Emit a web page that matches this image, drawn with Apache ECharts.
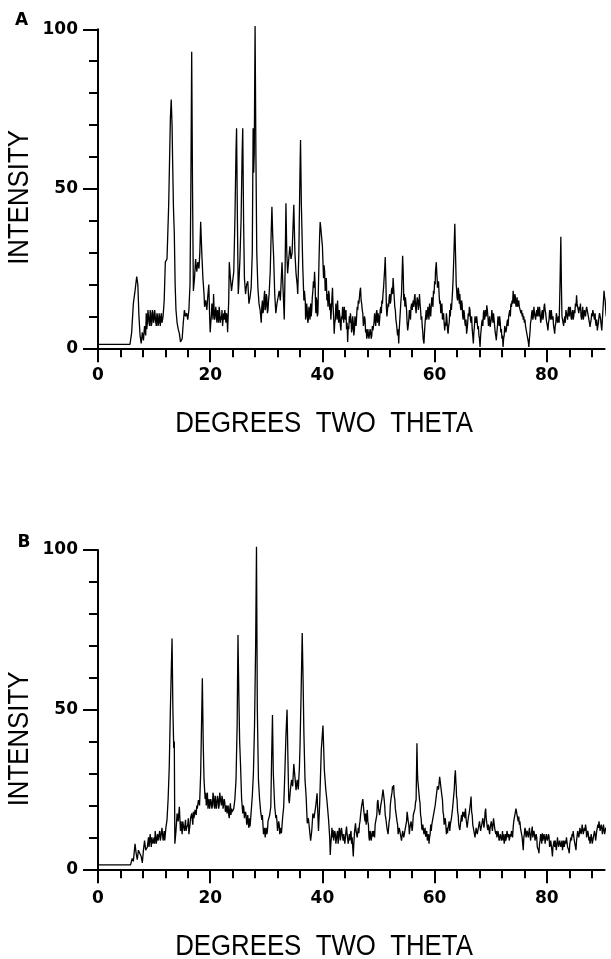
<!DOCTYPE html>
<html>
<head>
<meta charset="utf-8">
<script src="https://cdn.jsdelivr.net/npm/echarts@6/dist/echarts.min.js"></script>
<style>html,body{margin:0;padding:0;background:#fff;}#c{width:611px;height:959px;}</style>
</head>
<body>
<div id="c"></div>
<script>
// ---- data (degrees two theta, intensity) ----
const pointsA = [[0,1.2],[5.7,1.2],[6.0,5],[6.3,14],[6.6,18],[6.9,22.5],[7.1,20],[7.3,10],[7.5,4],[7.7,1.5],[7.9,5],[8.1,2.5],[8.3,7],[8.5,4],[8.6,11],[8.7,6],[8.8,8],[8.9,12],[9.0,12],[9.1,8],[9.2,7],[9.3,12],[9.4,11],[9.5,7],[9.6,8],[9.7,12],[9.8,11],[9.9,8],[10.0,9],[10.1,12],[10.2,10],[10.3,8],[10.4,7],[10.5,11],[10.6,10],[10.7,7],[10.8,8],[10.9,11],[11.0,9],[11.1,7],[11.2,10],[11.3,11],[11.4,8],[11.5,9],[11.6,10],[11.8,15],[12.0,27],[12.3,28],[12.6,45],[12.9,72],[13.05,78],[13.2,70],[13.3,59],[13.45,44],[13.6,36],[13.75,20],[13.9,12],[14.1,8],[14.3,6],[14.5,4.7],[14.7,2],[14.85,1.5],[15.0,3],[15.2,8],[15.4,12],[15.6,10],[15.8,11],[16.0,9],[16.2,12],[16.4,20],[16.55,50],[16.7,93],[16.85,50],[17.0,18],[17.2,22],[17.4,28],[17.6,24],[17.8,27],[18.0,25],[18.15,30],[18.3,39.7],[18.5,30],[18.7,22],[18.9,17],[19.0,13],[19.2,15],[19.4,12],[19.6,17],[19.75,20],[19.9,10],[20.0,5],[20.1,8],[20.2,10],[20.3,14],[20.4,12],[20.5,9],[20.6,17],[20.7,12],[20.8,9],[20.9,11],[21.0,13],[21.1,10],[21.2,8],[21.3,12],[21.4,10],[21.5,8],[21.6,13],[21.7,11],[21.8,8],[21.9,10],[22.0,9],[22.1,12],[22.2,7],[22.3,9],[22.4,11],[22.5,9],[22.6,12],[22.7,10],[22.8,8],[22.9,11],[23.0,10],[23.1,5],[23.3,15],[23.4,27],[23.6,22],[23.8,18],[24.0,18],[24.2,24],[24.4,40],[24.6,62],[24.7,69],[24.85,40],[25.0,17],[25.1,20],[25.3,28],[25.5,40],[25.7,62],[25.8,69],[25.95,40],[26.1,22],[26.3,17],[26.5,20],[26.7,21],[26.9,14],[27.1,16],[27.3,19],[27.5,30],[27.65,69],[27.75,55],[27.85,61],[28.0,101],[28.15,60],[28.3,30],[28.5,19],[28.7,14],[28.9,12],[29.1,8],[29.2,13],[29.3,15],[29.4,11],[29.5,12],[29.6,16],[29.7,18],[29.8,12],[29.9,13],[30.0,17],[30.1,16],[30.2,11],[30.3,12],[30.4,15],[30.5,17],[30.7,24],[30.85,35],[31.0,44.4],[31.15,35],[31.3,29],[31.5,17],[31.7,11],[31.9,14],[32.1,16],[32.3,18],[32.5,15],[32.7,23],[32.8,27],[33.0,18],[33.2,9],[33.35,25],[33.5,45.5],[33.65,30],[33.8,23.5],[34.0,28],[34.2,32],[34.4,28],[34.6,30],[34.7,30],[34.9,45],[35.1,30],[35.3,23.5],[35.5,20],[35.6,17],[35.8,30],[36.0,55],[36.1,65.3],[36.25,45],[36.5,25.6],[36.7,15],[36.8,18],[36.95,14.6],[37.0,9],[37.1,10],[37.2,14],[37.3,12],[37.4,8],[37.5,9],[37.6,13],[37.7,11],[37.8,9],[37.9,14],[38.0,10],[38.1,12],[38.2,16],[38.3,18],[38.4,21],[38.5,19],[38.6,24],[38.7,20],[38.8,12],[38.85,11],[38.9,16],[39.0,15],[39.1,10],[39.2,11],[39.3,20],[39.4,28],[39.5,35],[39.6,39.6],[39.7,38],[39.8,36],[39.9,34],[40.0,32],[40.1,27],[40.2,22],[40.3,26],[40.4,24],[40.5,18],[40.6,19],[40.7,22],[40.8,15],[40.9,17],[41.0,13],[41.1,18],[41.2,17],[41.3,12],[41.4,14],[41.5,9],[41.6,12],[41.7,16],[41.8,19],[41.9,13],[42.0,10],[42.1,4.6],[42.2,8],[42.3,9],[42.4,14],[42.5,12],[42.6,9],[42.7,15],[42.8,11],[42.9,8],[43.0,12],[43.1,10],[43.2,7],[43.3,5.6],[43.4,10],[43.5,9],[43.6,13],[43.7,11],[43.8,8],[43.9,13],[44.0,10],[44.1,9],[44.2,12],[44.3,6],[44.4,8],[44.5,2],[44.6,7],[44.7,6],[44.8,10],[44.9,8],[45.0,11],[45.1,9],[45.2,5],[45.3,6],[45.4,10],[45.5,8],[45.6,4],[45.7,5.6],[45.8,10],[45.9,9],[46.0,7],[46.1,10],[46.2,13],[46.3,12],[46.4,15],[46.5,14],[46.6,16],[46.7,18],[46.8,19],[46.9,15],[47.0,14],[47.1,12],[47.2,11],[47.3,7],[47.4,8],[47.5,10],[47.6,9],[47.7,5],[47.8,6],[47.9,3],[48.0,4],[48.1,6],[48.2,5.5],[48.3,3],[48.4,2.5],[48.5,6],[48.6,5],[48.7,3],[48.8,4],[48.9,7],[49.0,5.6],[49.1,6],[49.2,8],[49.3,11],[49.4,9],[49.5,7],[49.6,11],[49.7,12],[49.8,8],[49.9,11],[50.0,10],[50.1,7],[50.2,9],[50.3,12],[50.4,13],[50.5,11],[50.6,15],[50.7,14],[50.8,17],[50.9,19],[51.0,22],[51.1,25],[51.2,28.6],[51.3,22],[51.35,18],[51.4,13],[51.5,10],[51.6,12],[51.7,14],[51.8,13],[51.9,16],[52.0,17],[52.1,14],[52.2,15],[52.3,18],[52.4,19],[52.5,17],[52.6,22],[52.7,19],[52.8,16],[52.9,13],[53.0,12],[53.1,9],[53.2,7.7],[53.3,8],[53.4,4],[53.5,6],[53.6,1.5],[53.7,6],[53.8,9],[53.9,12],[54.0,15],[54.1,17],[54.15,20],[54.3,29],[54.4,24],[54.45,20],[54.5,15],[54.6,17],[54.7,13],[54.8,16],[54.9,14],[55.0,12],[55.1,8],[55.2,5.6],[55.3,7],[55.4,9],[55.5,12],[55.6,11],[55.7,9],[55.8,13],[55.9,14],[56.0,12],[56.1,14],[56.2,15],[56.3,13],[56.4,16],[56.5,17],[56.6,13],[56.7,11],[56.8,14],[56.9,16],[57.0,15],[57.1,12],[57.2,14],[57.3,17],[57.4,14],[57.5,12],[57.6,9],[57.7,10],[57.8,6.7],[57.9,5],[57.95,3],[58.1,1.5],[58.2,5],[58.3,8],[58.4,10],[58.5,12],[58.6,9],[58.7,10],[58.8,13],[58.9,11],[59.0,9],[59.1,14],[59.2,12],[59.3,10],[59.4,13],[59.5,16],[59.6,15],[59.7,13],[59.8,18],[59.9,17],[60.0,21],[60.1,20],[60.15,24],[60.3,27],[60.4,23],[60.45,22],[60.5,19],[60.6,19],[60.7,21],[60.8,17],[60.9,14],[61.0,15],[61.1,11],[61.2,12],[61.3,14],[61.4,9],[61.5,10],[61.6,11],[61.7,8],[61.8,5.6],[61.9,8],[62.0,7],[62.1,11],[62.2,9],[62.3,6],[62.4,4.6],[62.5,7],[62.6,8],[62.7,12],[62.8,10],[62.9,14],[63.0,12],[63.1,15],[63.2,18],[63.3,22],[63.45,30],[63.6,39],[63.75,28],[63.85,20],[63.9,19],[64.0,16],[64.1,15],[64.2,19],[64.3,18],[64.4,14],[64.5,17],[64.6,13],[64.7,12],[64.8,15],[64.9,14],[65.0,10],[65.1,9],[65.2,12],[65.3,11],[65.4,8],[65.5,7],[65.6,9],[65.7,4.6],[65.8,6],[65.9,8],[66.0,11],[66.1,10],[66.2,13],[66.3,12],[66.4,9],[66.5,8],[66.6,10],[66.7,6],[66.8,4],[66.9,1.5],[67.0,5],[67.1,7],[67.2,10],[67.3,9],[67.4,8],[67.5,10],[67.6,8],[67.7,6],[67.8,7],[67.9,4],[68.0,3],[68.1,0.4],[68.2,4],[68.3,6],[68.4,8],[68.5,9],[68.6,7],[68.7,11],[68.8,12],[68.9,9],[69.0,10],[69.1,12],[69.2,10],[69.3,13.5],[69.4,12],[69.5,10],[69.6,7],[69.7,8],[69.8,10],[69.9,6.7],[70.0,8],[70.1,9],[70.2,12],[70.3,10],[70.4,8],[70.5,11],[70.6,9],[70.7,7],[70.8,5],[70.9,4],[71.0,2.5],[71.1,5],[71.2,7],[71.3,10],[71.4,9],[71.5,7],[71.6,10],[71.7,8],[71.8,5],[71.9,6],[72.0,3],[72.1,4],[72.2,0.4],[72.3,3],[72.4,4],[72.5,7],[72.6,7],[72.7,5],[72.8,6],[72.9,8],[73.0,9],[73.1,7],[73.2,10],[73.3,11],[73.4,12],[73.5,10],[73.6,14],[73.7,13],[73.8,15],[73.9,14],[74.0,18],[74.1,15],[74.2,14],[74.3,17],[74.4,16],[74.5,13],[74.6,14],[74.7,16],[74.8,13],[74.9,14],[75.0,15],[75.1,13],[75.2,12.4],[75.3,13],[75.4,11],[75.5,12],[75.6,10],[75.7,11],[75.8,9],[75.9,10],[76.0,8],[76.1,9],[76.2,7],[76.3,6],[76.4,5.6],[76.5,4],[76.6,3],[76.7,2],[76.8,0.4],[76.9,3],[77.0,5],[77.1,8],[77.2,9],[77.3,11],[77.4,12],[77.5,9],[77.6,10],[77.7,13],[77.8,11],[77.9,10],[78.0,9],[78.1,11],[78.2,12],[78.3,10],[78.4,13],[78.5,11],[78.6,10],[78.7,13],[78.8,11],[78.9,8],[79.0,9],[79.1,11],[79.2,12],[79.3,9],[79.4,10],[79.5,13],[79.6,14],[79.7,12],[79.8,11],[79.9,9],[80.0,8],[80.1,7],[80.2,5.6],[80.3,8],[80.4,9],[80.5,12],[80.6,11],[80.7,9],[80.8,12],[80.9,10],[81.0,9],[81.1,10],[81.2,7],[81.3,6],[81.4,4.6],[81.5,7],[81.6,8],[81.7,11],[81.8,10],[81.9,8],[82.0,9],[82.1,10],[82.2,8],[82.35,20],[82.5,35],[82.6,20],[82.65,15],[82.7,10],[82.8,9],[82.9,8],[83.0,7],[83.1,9],[83.2,10],[83.3,8],[83.4,12],[83.5,11],[83.6,10],[83.7,9],[83.8,12],[83.9,13],[84.0,10],[84.1,12],[84.2,13],[84.3,10],[84.4,9],[84.5,11],[84.6,12],[84.7,9],[84.8,10],[84.9,12],[85.0,11],[85.1,14],[85.2,13],[85.3,16.6],[85.4,14],[85.5,13],[85.6,12],[85.7,11],[85.8,13],[85.9,12],[86.0,14],[86.1,10],[86.2,9],[86.3,11],[86.4,13],[86.5,9],[86.6,10],[86.7,12],[86.8,11],[86.9,10],[87.0,12],[87.1,13],[87.2,12],[87.3,11],[87.4,10],[87.5,9],[87.6,8],[87.7,6.7],[87.8,8],[87.9,9],[88.0,11],[88.1,10],[88.2,12],[88.3,11],[88.4,10],[88.5,9],[88.6,11],[88.7,8],[88.8,7],[88.9,9],[89.0,5.6],[89.1,7],[89.2,8],[89.3,10],[89.4,11],[89.5,10],[89.6,9],[89.7,7],[89.8,5.6],[89.9,9],[90.0,12],[90.1,15],[90.2,18],[90.3,16],[90.4,15],[90.5,12],[90.6,10],[90.7,11],[90.8,12],[90.9,10],[91.0,11]];

const pointsB = [[0,1.4],[5.8,1.4],[6.1,3.4],[6.3,2.5],[6.6,8],[6.8,5],[7.0,3],[7.2,6],[7.5,6],[7.7,4],[7.9,2],[8.1,6],[8.3,9],[8.5,6],[8.8,7],[9.0,10],[9.1,7],[9.3,11],[9.5,7],[9.6,10],[9.8,8],[10.0,10],[10.1,8],[10.2,12],[10.4,8],[10.6,11],[10.7,9],[10.8,9],[11.0,12],[11.1,9],[11.2,10],[11.4,13],[11.6,9],[11.8,12],[11.9,9],[12.1,13],[12.3,15.5],[12.5,22],[12.7,32],[12.9,50],[13.1,65],[13.2,72.3],[13.35,50],[13.5,38],[13.6,40],[13.7,8],[13.9,12],[14.1,17.5],[14.3,15],[14.5,19.6],[14.7,12],[14.8,15],[15.0,11],[15.1,15],[15.2,14],[15.4,12],[15.6,15.5],[15.7,12],[15.8,13],[16.0,14],[16.1,16],[16.2,11],[16.4,14],[16.5,16],[16.7,17.5],[16.9,14],[17.0,18],[17.1,16],[17.3,18.6],[17.5,17],[17.6,20],[17.7,19],[17.9,21.7],[18.1,20],[18.3,30],[18.45,45],[18.6,59.8],[18.75,40],[18.9,28],[19.1,22],[19.2,24],[19.3,20],[19.4,21.7],[19.5,24],[19.6,19],[19.7,21],[19.8,22],[19.9,19],[20.0,18.6],[20.1,22],[20.2,21],[20.3,19],[20.4,20],[20.5,24],[20.6,22.8],[20.7,20],[20.8,19],[20.9,23],[21.0,21],[21.1,19],[21.2,18.6],[21.3,23],[21.4,22],[21.5,19],[21.6,20],[21.7,24],[21.8,23.8],[21.9,21],[22.0,20],[22.1,23],[22.2,22],[22.3,19],[22.4,19.6],[22.5,22],[22.6,21],[22.7,18],[22.8,18],[22.9,20],[23.0,17.5],[23.1,19],[23.2,20],[23.3,17],[23.4,16],[23.5,19],[23.6,20.7],[23.7,17],[23.8,19],[23.9,18],[24.0,17.5],[24.2,19],[24.4,22],[24.6,28],[24.8,45],[24.95,73.4],[25.1,55],[25.25,40],[25.4,33],[25.6,22],[25.8,17.5],[25.9,20],[26.0,19],[26.1,16],[26.2,16],[26.3,18],[26.4,17],[26.5,14],[26.6,15.5],[26.7,17],[26.8,14],[26.9,13],[27.0,16],[27.1,13.4],[27.3,18],[27.5,22.8],[27.7,30],[27.9,45],[28.1,70],[28.25,101],[28.4,50],[28.6,28],[28.8,22],[29.0,18],[29.2,15.5],[29.3,17],[29.4,14],[29.5,11],[29.6,12],[29.7,13],[29.8,10],[29.9,12],[30.0,13],[30.1,11],[30.2,12],[30.3,15],[30.4,14.4],[30.6,17],[30.8,19.6],[30.95,35],[31.1,48.3],[31.25,30],[31.5,19.6],[31.7,16],[31.8,17],[31.9,15],[32.0,12],[32.1,13.4],[32.2,15],[32.3,14],[32.4,11],[32.5,12],[32.6,13],[32.7,11.3],[32.9,16],[33.1,19.6],[33.3,30],[33.5,42],[33.7,50],[33.85,35],[34.0,22],[34.1,20.7],[34.3,25],[34.5,28],[34.7,26],[34.9,33],[35.0,31],[35.2,27],[35.3,24.8],[35.5,28],[35.7,25],[35.9,32],[36.0,38],[36.2,55],[36.4,74],[36.55,60],[36.7,42.6],[36.9,28],[37.1,22.8],[37.3,14.4],[37.5,16],[37.8,15.5],[37.9,9],[38.1,12],[38.3,17.5],[38.5,16],[38.8,19.6],[39.05,23.8],[39.3,12],[39.5,20],[39.8,37.4],[40.1,45],[40.35,31],[40.6,25],[40.8,21.7],[41.1,15.5],[41.3,10],[41.4,4.5],[41.5,8],[41.6,10],[41.7,13],[41.8,10],[41.9,12.3],[42.0,9],[42.1,9],[42.2,12],[42.3,11],[42.4,8],[42.5,8],[42.6,11],[42.7,12],[42.8,8],[42.9,10],[43.0,13],[43.1,12.3],[43.2,9],[43.3,11],[43.4,13],[43.5,13],[43.6,10],[43.7,9],[43.8,11],[43.9,11],[44.0,8],[44.1,10],[44.2,12],[44.3,13.4],[44.4,11],[44.5,11],[44.6,8],[44.7,8],[44.8,11],[44.9,9],[45.0,11],[45.1,12],[45.2,8],[45.3,10],[45.4,7],[45.5,4],[45.6,8],[45.7,11],[45.8,13],[45.9,14.4],[46.0,12],[46.1,12],[46.2,10],[46.3,10],[46.4,13],[46.5,11.3],[46.6,14],[46.7,15],[46.8,17],[46.9,17.5],[47.0,20],[47.1,20],[47.2,22],[47.3,22.2],[47.4,18],[47.5,18],[47.6,15],[47.7,17.5],[47.8,14],[47.9,14],[48.0,18.6],[48.1,15],[48.2,14],[48.3,10],[48.4,9],[48.5,12],[48.6,11],[48.7,9],[48.8,9],[48.9,12],[49.0,10.2],[49.1,12],[49.2,12],[49.3,10],[49.4,14],[49.5,13.4],[49.6,16],[49.7,17],[49.8,21],[49.9,21.7],[50.0,19],[50.1,19],[50.2,17],[50.3,17.5],[50.4,20],[50.5,20],[50.6,22],[50.7,22],[50.8,25],[50.9,25.4],[51.0,22],[51.1,20],[51.2,17],[51.3,16],[51.4,15.5],[51.5,13],[51.6,13],[51.7,11],[51.8,11.3],[51.9,15],[52.0,16],[52.1,20],[52.2,21.7],[52.3,23],[52.4,24],[52.5,26],[52.6,25],[52.7,26.4],[52.8,23],[52.9,22],[53.0,19],[53.1,19],[53.2,18.6],[53.3,15],[53.4,14],[53.5,11],[53.6,11.3],[53.7,13],[53.8,13],[53.9,11],[54.0,11],[54.1,9],[54.2,9],[54.3,12],[54.4,12],[54.5,10],[54.6,10],[54.7,12],[54.8,12.3],[54.9,12],[55.0,15],[55.1,18],[55.2,18.6],[55.3,15],[55.4,14],[55.5,11],[55.6,13],[55.7,13.4],[55.8,15],[55.9,15],[56.0,12],[56.1,14],[56.2,17],[56.3,17.5],[56.4,17],[56.5,19],[56.6,21],[56.7,21.7],[56.85,39.5],[56.95,30],[57.0,28],[57.1,28],[57.2,24],[57.3,22],[57.4,20.7],[57.5,17],[57.6,16],[57.7,13],[57.8,12.3],[57.9,14],[58.0,14],[58.1,11],[58.2,11],[58.3,13],[58.4,10.2],[58.5,11],[58.6,12],[58.7,9],[58.8,9],[58.9,11],[59.0,8],[59.1,10],[59.2,11],[59.3,14],[59.4,12],[59.5,14],[59.6,13.4],[59.7,16],[59.8,16],[59.9,18],[60.0,18],[60.1,20],[60.2,19.6],[60.3,23],[60.4,23],[60.5,26],[60.6,25.9],[60.7,25],[60.8,27],[60.9,29],[61.0,29.5],[61.1,26],[61.2,26],[61.3,23],[61.4,21.7],[61.5,18],[61.6,17],[61.7,14],[61.8,13.4],[61.9,16],[62.0,14],[62.1,11],[62.2,13],[62.3,11.3],[62.4,13],[62.5,13],[62.6,15],[62.7,12],[62.8,14],[62.9,13.4],[63.0,16],[63.1,16],[63.2,19],[63.3,19.6],[63.4,23],[63.5,25],[63.6,29],[63.7,31],[63.8,27],[63.85,26],[63.9,23],[64.0,21.7],[64.1,18],[64.2,17],[64.3,14],[64.4,13],[64.5,12.3],[64.6,14],[64.7,14],[64.8,17],[64.9,15],[65.0,18],[65.1,16.5],[65.2,16],[65.3,18],[65.4,16],[65.5,19],[65.6,16],[65.7,16],[65.8,13],[65.9,13.4],[66.0,16],[66.1,16],[66.2,18],[66.3,18],[66.4,21],[66.5,22.8],[66.6,18],[66.7,17],[66.8,14],[66.9,14.4],[67.0,12],[67.1,12],[67.2,10],[67.3,10.2],[67.4,13],[67.5,13],[67.6,11],[67.7,11],[67.8,13],[67.9,13.4],[68.0,15],[68.1,15],[68.2,12],[68.3,12],[68.4,14],[68.5,14.4],[68.6,16],[68.7,16],[68.8,13],[68.9,15],[69.0,18],[69.1,19],[69.2,16],[69.3,16],[69.4,13],[69.5,12.3],[69.6,14],[69.7,14],[69.8,11],[69.9,13],[70.0,13.4],[70.1,15],[70.2,15],[70.3,12],[70.4,14],[70.5,16],[70.6,16.5],[70.7,13],[70.8,13],[70.9,11],[71.0,12],[71.1,10],[71.2,10.2],[71.3,12],[71.4,12],[71.5,9],[71.6,9],[71.7,11],[71.8,11.3],[71.9,9],[72.0,10],[72.1,12],[72.2,9],[72.3,11],[72.4,8],[72.5,9],[72.6,11],[72.7,9],[72.8,10],[72.9,12],[73.0,12.3],[73.1,10],[73.2,11],[73.3,9],[73.4,9],[73.5,11],[73.6,10.2],[73.7,12],[73.8,12],[73.9,10],[74.0,13],[74.1,15],[74.2,14.4],[74.3,17],[74.4,17],[74.5,19],[74.6,19],[74.7,17],[74.8,17],[74.9,15],[75.0,16.5],[75.1,14],[75.2,15],[75.3,13],[75.4,13.4],[75.5,11],[75.6,10],[75.7,8],[75.8,6],[75.9,10],[76.0,11],[76.1,13],[76.2,12.3],[76.3,10],[76.4,10],[76.5,12],[76.6,12],[76.7,10],[76.8,10.2],[76.9,13],[77.0,11],[77.1,9],[77.2,9],[77.3,12],[77.4,13.4],[77.5,10],[77.6,10],[77.7,12],[77.8,11],[77.9,9],[78.0,9],[78.1,11],[78.2,10],[78.3,7],[78.4,7],[78.5,6],[78.6,5],[78.7,8],[78.8,9],[78.9,11],[79.0,10],[79.1,8],[79.2,11.3],[79.3,9],[79.4,9],[79.5,11],[79.6,10],[79.7,8],[79.8,8],[79.9,11],[80.0,11],[80.1,9],[80.2,9],[80.3,11],[80.4,10.2],[80.5,7],[80.6,7],[80.7,9],[80.8,9],[80.9,6],[81.0,4],[81.1,7],[81.2,8],[81.3,9],[81.4,7],[81.5,9],[81.6,9],[81.7,6],[81.8,8],[81.9,10],[82.0,10],[82.1,7],[82.2,7],[82.3,9],[82.4,9],[82.5,7],[82.6,7],[82.7,9],[82.8,6],[82.9,8],[83.0,9],[83.1,7],[83.2,7],[83.3,9],[83.4,8],[83.5,10],[83.6,10],[83.7,7],[83.8,7],[83.9,6],[84.0,5],[84.1,8],[84.2,8],[84.3,10],[84.4,9],[84.5,11],[84.6,10.2],[84.7,12],[84.8,12],[84.9,9],[85.0,9],[85.1,7],[85.2,6],[85.3,9],[85.4,9],[85.5,12],[85.6,12],[85.7,10],[85.8,11.3],[85.9,13],[86.0,13],[86.1,11],[86.2,12],[86.3,14],[86.4,13.4],[86.5,11],[86.6,11],[86.7,13],[86.8,12],[86.9,14],[87.0,12.8],[87.1,10],[87.2,10],[87.3,12],[87.4,11],[87.5,9],[87.6,10.2],[87.7,8],[87.8,9],[87.9,11],[88.0,10],[88.1,8],[88.2,8],[88.3,10],[88.4,10],[88.5,12],[88.6,11],[88.7,9],[88.8,9],[88.9,12],[89.0,12],[89.1,14],[89.2,13],[89.3,15],[89.4,14.4],[89.5,12],[89.6,12],[89.7,14],[89.8,13],[89.9,11],[90.0,12.3],[90.1,14],[90.2,14],[90.3,11],[90.4,11],[90.5,13],[90.6,13.4],[90.7,12],[90.8,12],[90.9,10],[91.0,11.3]];

const xMajorTicks = [0, 20, 40, 60, 80];
const xMinorTicks = [0, 4, 8, 12, 16, 20, 24, 28, 32, 36, 40, 44, 48, 52, 56, 60, 64, 68, 72, 76, 80, 84, 88];
const yMajorTicks = [0, 50, 100];
const yMinorTicks = [0, 10, 20, 30, 40, 50, 60, 70, 80, 90, 100];
const panelLetters = ['A', 'B'];
const xTitle = 'DEGREES  TWO  THETA';
const yTitle = 'INTENSITY';

// ---- chart ----
const chart = echarts.init(document.getElementById('c'), null, {renderer: 'canvas'});
const labelFont = {fontFamily: 'DejaVu Sans', fontWeight: 'bold', fontSize: 17, color: '#000'};
const XMAX = 90.3;

function xAxes(g, labelMargin) {
  return [
    {gridIndex: g, type: 'value', position: 'bottom', min: 0, max: XMAX,
     axisLine: {show: true, onZero: false, lineStyle: {color: '#000', width: 2}},
     axisTick: {show: true, customValues: xMinorTicks, length: 9, lineStyle: {color: '#000', width: 2}},
     axisLabel: {show: false}, splitLine: {show: false}},
    {gridIndex: g, type: 'value', position: 'bottom', min: 0, max: XMAX,
     axisLine: {show: false, onZero: false},
     axisTick: {show: true, customValues: xMajorTicks, length: 14, lineStyle: {color: '#000', width: 2}},
     axisLabel: Object.assign({show: true, customValues: xMajorTicks, margin: labelMargin}, labelFont),
     splitLine: {show: false}}
  ];
}
function yAxes(g) {
  return [
    {gridIndex: g, type: 'value', position: 'left', min: 0, max: 100,
     axisLine: {show: true, onZero: false, lineStyle: {color: '#000', width: 2}},
     axisTick: {show: true, customValues: yMinorTicks, length: 9, lineStyle: {color: '#000', width: 2}},
     axisLabel: {show: false}, splitLine: {show: false}},
    {gridIndex: g, type: 'value', position: 'left', min: 0, max: 100,
     axisLine: {show: false, onZero: false},
     axisTick: {show: true, customValues: yMajorTicks, length: 15, lineStyle: {color: '#000', width: 2}},
     axisLabel: Object.assign({show: true, customValues: yMajorTicks, margin: 20}, labelFont),
     splitLine: {show: false}}
  ];
}

function textEl(str, x, y, size, weight, rot, sx, fam) {
  return {type: 'text', x: x, y: y, rotation: rot || 0, scaleX: sx || 1,
    style: {text: str, fill: '#000', fontFamily: fam || 'Liberation Sans', fontSize: size, fontWeight: weight,
            align: 'center', verticalAlign: 'middle'}};
}

const option = {
  animation: false,
  backgroundColor: '#fff',
  grid: [
    {left: 98, top: 29.3, width: 506.6, height: 319},
    {left: 98, top: 550, width: 506.6, height: 319.3}
  ],
  xAxis: [].concat(xAxes(0, 19), xAxes(1, 21)),
  yAxis: [].concat(yAxes(0), yAxes(1)),
  series: [
    {type: 'line', xAxisIndex: 0, yAxisIndex: 0, data: pointsA, showSymbol: false, symbol: 'none',
     clip: false, lineStyle: {color: '#000', width: 1.3}},
    {type: 'line', xAxisIndex: 2, yAxisIndex: 2, data: pointsB, showSymbol: false, symbol: 'none',
     clip: false, lineStyle: {color: '#000', width: 1.3}}
  ],
  graphic: [
    textEl(panelLetters[0], 21.5, 21, 17, 'bold', 0, 1, 'DejaVu Sans'),
    textEl(panelLetters[1], 24, 542.5, 17, 'bold', 0, 1, 'DejaVu Sans'),
    textEl(yTitle, 20, 197.5, 30, 'normal', Math.PI / 2, 0.86),
    textEl(yTitle, 20, 739, 30, 'normal', Math.PI / 2, 0.86),
    textEl(xTitle, 324, 424, 30, 'normal', 0, 0.86),
    textEl(xTitle, 324, 947, 30, 'normal', 0, 0.86)
  ]
};
chart.setOption(option);
</script>
</body>
</html>
